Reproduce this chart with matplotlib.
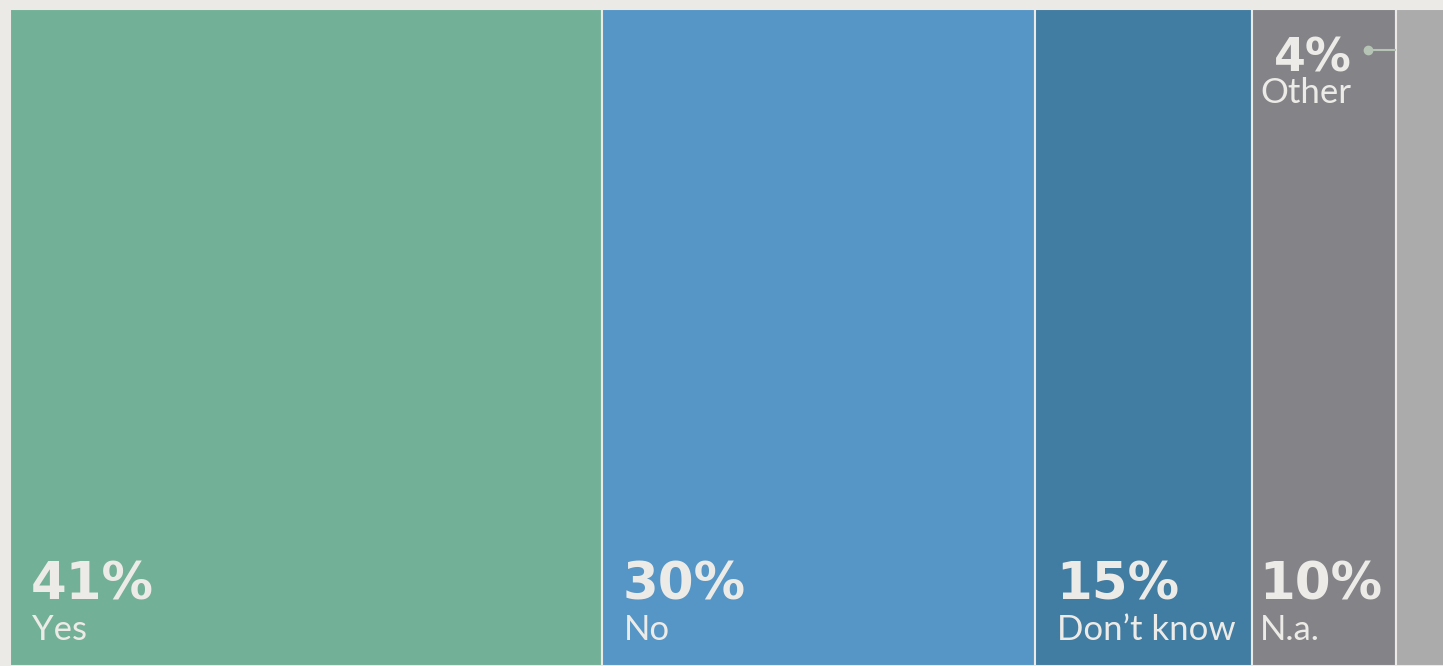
import matplotlib
matplotlib.use("Agg")
import matplotlib.pyplot as plt
from matplotlib.lines import Line2D
from matplotlib.transforms import blended_transform_factory

# answer shares (percent)
labels = ["Yes", "No", "Don\u2019t know", "N.a.", "Other"]
values = [41, 30, 15, 10, 4]
colors = ["#72B097", "#5596C7", "#417CA2", "#848388", "#ABABAB"]

bg = "#ECEAE6"
txt = "#EDEBE7"
W, H = 1443, 666
full_px = 1444  # pixel width of 100%

plt.rcParams['font.family'] = ['Lato', 'DejaVu Sans']

fig = plt.figure(figsize=(W / 100, H / 100), dpi=100, facecolor=bg)
ax = fig.add_axes([10 / W, 0, full_px / W, (H - 9) / H])
ax.set_xlim(0, 100)
ax.set_ylim(0, 1)
ax.axis('off')

lefts = [sum(values[:i]) for i in range(len(values))]
ax.barh(0.5, values, left=lefts, height=1, color=colors,
        edgecolor=bg, linewidth=1.5)

px_per_unit = full_px / 100
pct_font = dict(family=['DejaVu Sans'], fontweight='bold', color=txt)
lab_font = dict(family=['Lato', 'DejaVu Sans'], fontweight='normal', color=txt)

for lab, v, l in zip(labels[:-1], values[:-1], lefts[:-1]):
    pad = 21 if v * px_per_unit > 150 else 7
    ax.annotate(f"{v}%", xy=(l, 66), xycoords=('data', 'figure pixels'),
                xytext=(pad, 0), textcoords='offset pixels',
                fontsize=37, ha='left', va='baseline', **pct_font)
    ax.annotate(lab, xy=(l, 26), xycoords=('data', 'figure pixels'),
                xytext=(pad + 1, 0), textcoords='offset pixels',
                fontsize=25, ha='left', va='baseline', **lab_font)

# small segment labelled outside, with a leader line
l, v, lab = lefts[-1], values[-1], labels[-1]
ax.annotate(f"{v}%", xy=(l, H - 71), xycoords=('data', 'figure pixels'),
            xytext=(-44, 0), textcoords='offset pixels',
            fontsize=33, ha='right', va='baseline', **pct_font)
ax.annotate(lab, xy=(l, H - 103), xycoords=('data', 'figure pixels'),
            xytext=(-45, 0), textcoords='offset pixels',
            fontsize=25, ha='right', va='baseline', **lab_font)
tr = blended_transform_factory(ax.transData, fig.transFigure)
y_lead = (H - 50) / H
x0 = l - 28 / px_per_unit
fig.add_artist(Line2D([x0, l - 1 / px_per_unit], [y_lead, y_lead],
                      transform=tr, color="#B5C4B5", lw=1.5))
fig.add_artist(Line2D([x0], [y_lead], transform=tr, marker='o',
                      markersize=6, color="#B5C4B5", lw=0))

fig.savefig("out.png", dpi=100, facecolor=bg)
